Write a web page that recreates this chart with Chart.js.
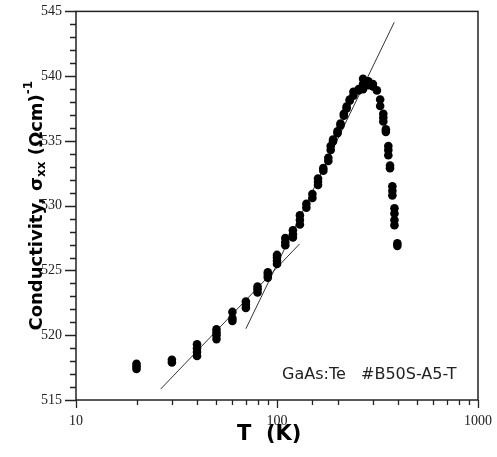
<!DOCTYPE html>
<html>
<head>
<meta charset="utf-8">
<script src="https://cdn.jsdelivr.net/npm/chart.js@4/dist/chart.umd.min.js"></script>
<style>
  html, body { margin: 0; padding: 0; background: #fff; }
  #cond_chart { display: block; }
</style>
</head>
<body>
<canvas id="cond_chart" width="497" height="457"></canvas>
<script>
// temperatures (K) where readings were taken
const temps = [20, 30, 40, 50, 60, 70, 80, 90, 100, 110, 120, 130, 140, 150, 160, 170, 180, 185, 190, 200,
    207, 215, 222, 230, 240, 255, 268, 285, 300, 314, 326, 338, 348, 358, 365, 375, 384, 397];

// conductivity readings at each temperature (several per temperature)
const sigmas = [
    [517.4, 517.6, 517.8],
    [517.9, 518.1],
    [518.4, 518.7, 519.0, 519.3],
    [519.7, 520.0, 520.2, 520.45],
    [521.1, 521.3, 521.8],
    [522.1, 522.35, 522.6],
    [523.3, 523.55, 523.75],
    [524.45, 524.65, 524.85],
    [525.5, 525.75, 526.0, 526.2],
    [526.95, 527.2, 527.5],
    [527.55, 527.8, 528.1],
    [528.55, 528.9, 529.25],
    [529.85, 530.15],
    [530.6, 530.9],
    [531.6, 531.85, 532.1],
    [532.7, 532.9],
    [533.45, 533.7],
    [534.3, 534.6],
    [534.95, 535.1],
    [535.6, 535.75],
    [536.2, 536.35],
    [536.95, 537.1],
    [537.5, 537.65],
    [538.1, 538.2],
    [538.5, 538.8],
    [538.9, 539.0],
    [539.0, 539.4, 539.8],
    [539.3, 539.6],
    [539.2, 539.4],
    [538.9],
    [537.7, 538.2],
    [536.5, 536.8, 537.1],
    [535.7, 535.9],
    [533.9, 534.3, 534.6],
    [532.9, 533.1],
    [530.8, 531.15, 531.5],
    [528.5, 528.9, 529.4, 529.8],
    [526.9, 527.1]
];

// straight-line fits (on log T)
const fitLowT = [26.4, 129.4];
const fitLowSigma = [515.85, 527.04];
const fitHighT = [70, 383];
const fitHighSigma = [520.5, 544.16];

const xTickLabels = [10, 100, 1000];
const yMin = 515, yMax = 545;

let points = [];
for (let i = 0; i < temps.length; i++) {
    sigmas[i].forEach(s => points.push({ x: temps[i], y: s }));
}

const toXY = (xs, ys) => xs.map((x, i) => ({ x: x, y: ys[i] }));

const frameAndText = {
    id: 'frameAndText',
    afterDraw(chart) {
        const ctx = chart.ctx;
        const a = chart.chartArea;
        const xs = chart.scales.x, ys = chart.scales.y;
        ctx.save();
        ctx.strokeStyle = '#222';
        ctx.lineWidth = 1.5;
        ctx.strokeRect(a.left, a.top, a.right - a.left, a.bottom - a.top);

        // tick marks
        ctx.lineWidth = 1.3;
        ctx.beginPath();
        ys.ticks.forEach(t => {
            const y = Math.round(ys.getPixelForValue(t.value)) + 0.5;
            const len = t.value % 5 === 0 ? 11 : 6;
            ctx.moveTo(a.left - len, y);
            ctx.lineTo(a.left, y);
        });
        xs.ticks.forEach(t => {
            const x = Math.round(xs.getPixelForValue(t.value)) + 0.5;
            const major = xTickLabels.includes(t.value);
            ctx.moveTo(x, a.bottom);
            ctx.lineTo(x, a.bottom + (major ? 8 : 5));
        });
        ctx.stroke();

        // y axis title with sub/superscript
        ctx.fillStyle = '#000';
        ctx.translate(42, (a.top + a.bottom) / 2);
        ctx.rotate(-Math.PI / 2);
        const parts = [
            { t: 'Conductivity, σ', f: 'bold 18px "DejaVu Sans"', dy: 0 },
            { t: 'xx', f: 'bold 12px "DejaVu Sans"', dy: 3 },
            { t: ' (Ωcm)', f: 'bold 18px "DejaVu Sans"', dy: 0 },
            { t: '-1', f: 'bold 12px "DejaVu Sans"', dy: -10 }
        ];
        let total = 0;
        parts.forEach(p => { ctx.font = p.f; p.w = ctx.measureText(p.t).width; total += p.w; });
        let px = -total / 2;
        ctx.textBaseline = 'alphabetic';
        parts.forEach(p => { ctx.font = p.f; ctx.fillText(p.t, px, p.dy); px += p.w; });
        ctx.restore();

        ctx.save();
        ctx.fillStyle = '#000';
        ctx.font = 'bold 21px "DejaVu Sans"';
        ctx.textBaseline = 'alphabetic';
        ctx.fillText('T  (K)', 237, 440);

        ctx.fillStyle = '#222';
        ctx.font = '16px "DejaVu Sans"';
        ctx.fillText('GaAs:Te', 282, 379);
        ctx.fillText('#B50S-A5-T', 361, 379);
        ctx.restore();
    }
};

const config = {
    type: 'scatter',
    data: {
        datasets: [
            {
                label: 'data',
                data: points,
                pointRadius: 4.3,
                pointHoverRadius: 4.3,
                backgroundColor: '#000',
                borderWidth: 0,
                order: 0
            },
            {
                label: 'fit low',
                data: toXY(fitLowT, fitLowSigma),
                showLine: true,
                pointRadius: 0,
                borderColor: '#333',
                borderWidth: 1,
                order: 1
            },
            {
                label: 'fit high',
                data: toXY(fitHighT, fitHighSigma),
                showLine: true,
                pointRadius: 0,
                borderColor: '#333',
                borderWidth: 1,
                order: 1
            }
        ]
    },
    options: {
        responsive: false,
        animation: false,
        layout: { padding: { top: 8, right: 16, left: 0, bottom: 0 } },
        plugins: {
            legend: { display: false },
            tooltip: { enabled: false }
        },
        scales: {
            x: {
                type: 'logarithmic',
                min: 10,
                max: 1000,
                afterFit: scale => { scale.height = 57; },
                border: { display: false },
                grid: { drawOnChartArea: false, tickLength: 8, tickColor: 'rgba(0,0,0,0)' },
                ticks: {
                    autoSkip: false,
                    maxRotation: 0,
                    padding: 5,
                    color: '#222',
                    font: { family: '"Liberation Serif"', size: 14 },
                    callback: v => xTickLabels.includes(v) ? String(v) : ''
                }
            },
            y: {
                min: yMin,
                max: yMax,
                afterFit: scale => { scale.width = 76; },
                border: { display: false },
                grid: { drawOnChartArea: false, tickLength: 11, tickColor: 'rgba(0,0,0,0)' },
                ticks: {
                    stepSize: 1,
                    autoSkip: false,
                    padding: 3,
                    color: '#222',
                    font: { family: '"Liberation Serif"', size: 14 },
                    callback: v => v % 5 === 0 ? String(v) : ''
                }
            }
        }
    },
    plugins: [frameAndText]
};

new Chart(document.getElementById('cond_chart'), config);
</script>
</body>
</html>
